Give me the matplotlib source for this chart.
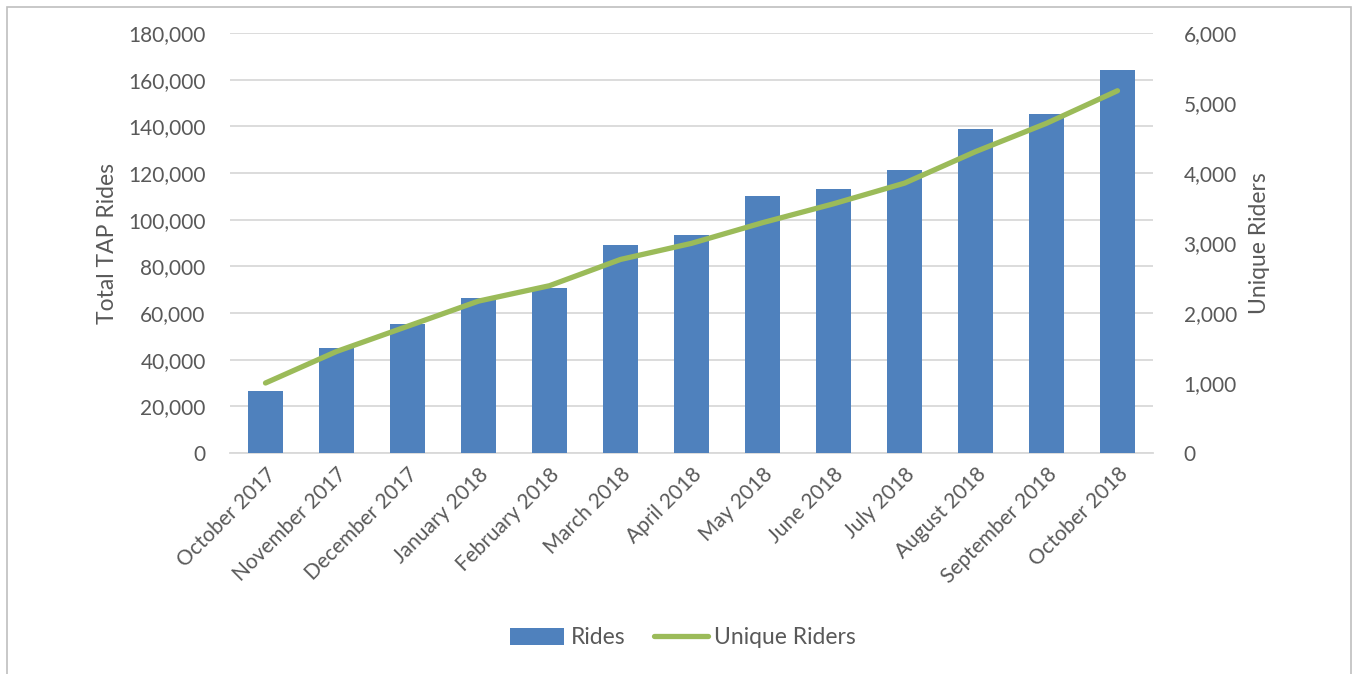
import matplotlib
matplotlib.use("Agg")
import matplotlib.pyplot as plt
from matplotlib.patches import Rectangle
from matplotlib.ticker import FuncFormatter, MultipleLocator
from matplotlib.lines import Line2D
from matplotlib.patches import Patch

months = ["October 2017", "November 2017", "December 2017", "January 2018",
          "February 2018", "March 2018", "April 2018", "May 2018", "June 2018",
          "July 2018", "August 2018", "September 2018", "October 2018"]
rides = [26600, 44900, 55300, 66400, 70800, 89000, 93300, 110100, 113000,
         121500, 138800, 145100, 164100]
unique_riders = [1000, 1450, 1810, 2170, 2390, 2765, 2995, 3290, 3560,
                 3855, 4305, 4710, 5175]

BAR = "#4F81BD"
LINE = "#9BBB59"
TEXT = "#595959"
GRID = "#D9D9D9"

plt.rcParams["font.family"] = ["Lato", "DejaVu Sans"]

fig = plt.figure(figsize=(13.53, 6.74), dpi=100)
ax = fig.add_axes([230 / 1353, 1 - 453 / 674, 923 / 1353, 420 / 674])
ax2 = ax.twinx()

x = list(range(len(months)))
ax.bar(x, rides, width=0.5, color=BAR, zorder=3)
ax2.plot(x, unique_riders, color=LINE, lw=3.8, solid_capstyle="round",
         solid_joinstyle="round", zorder=4)

ax.set_xlim(-0.5, len(months) - 0.5)
ax.set_ylim(0, 180000)
ax2.set_ylim(0, 6000)
ax.yaxis.set_major_locator(MultipleLocator(20000))
ax2.yaxis.set_major_locator(MultipleLocator(1000))
fmt = FuncFormatter(lambda v, p: f"{int(v):,}")
ax.yaxis.set_major_formatter(fmt)
ax2.yaxis.set_major_formatter(fmt)

ax.grid(axis="y", color=GRID, lw=1.3, zorder=0)
ax.set_axisbelow(True)
for a in (ax, ax2):
    for s in a.spines.values():
        s.set_visible(False)
ax.spines["bottom"].set_visible(True)
ax.spines["bottom"].set_color(GRID)
ax.spines["bottom"].set_linewidth(1.3)

ax.set_xticks(x)
ax.set_xticklabels(months, rotation=45, ha="right", rotation_mode="anchor")
ax.tick_params(axis="x", length=0, pad=8, labelsize=15, labelcolor=TEXT)
ax.tick_params(axis="y", length=0, pad=17.5, labelsize=15, labelcolor=TEXT)
ax2.tick_params(axis="y", length=0, pad=22, labelsize=15, labelcolor=TEXT)

ax.set_ylabel("Total TAP Rides", fontsize=16.5, color=TEXT, labelpad=7)
ax2.set_ylabel("Unique Riders", fontsize=16.5, color=TEXT, labelpad=9)

handles = [Patch(facecolor=BAR, edgecolor="none"),
           Line2D([0], [0], color=LINE, lw=3.8, solid_capstyle="round")]
fig.legend(handles, ["Rides", "Unique Riders"], loc="center",
           bbox_to_anchor=(683 / 1353, 1 - 638 / 674), ncol=2, frameon=False,
           fontsize=16.5, labelcolor=TEXT, handlelength=2.35, handleheight=0.7,
           handletextpad=0.3, columnspacing=1.25)

fig.patches.append(Rectangle((7 / 1353, -0.05), 1344 / 1353, 1.05 - 7 / 674,
                             transform=fig.transFigure, fill=False,
                             edgecolor="#BFBFBF", lw=1.2))

fig.savefig("out.png", dpi=100)
